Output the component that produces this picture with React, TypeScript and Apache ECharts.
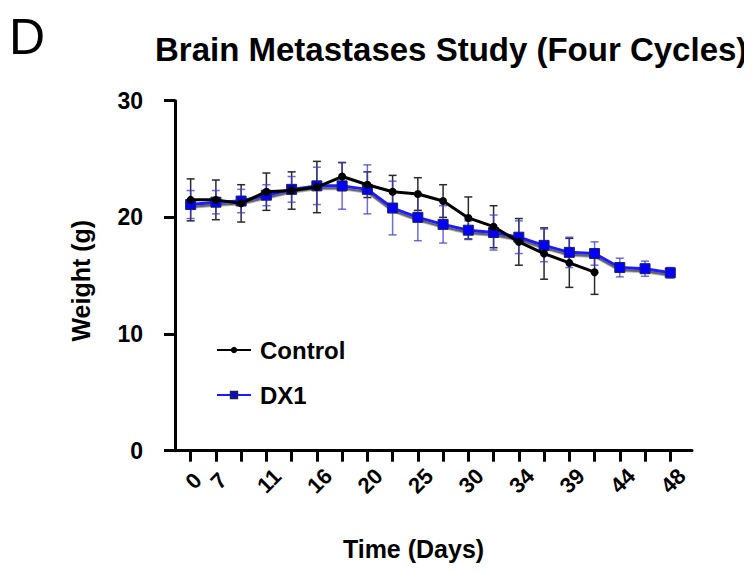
import React, { useEffect, useRef } from "react";
import * as echarts from "echarts";

const dayLabels = ["0", "7", "", "11", "", "16", "", "20", "", "25", "", "30", "", "34", "", "39", "", "44", "", "48"];
const labeledIdx = [0, 1, 3, 5, 7, 9, 11, 13, 15, 17, 19];
const yTicks = [0, 10, 20, 30];

const controlMean = [21.5, 21.5, 21.2, 22.2, 22.3, 22.6, 23.5, 22.8, 22.2, 22.0, 21.4, 19.95, 19.2, 17.9, 16.9, 16.1, 15.3];
const controlSD = [1.8, 1.7, 1.6, 1.6, 1.6, 2.2, 1.2, 1.1, 1.4, 1.4, 1.4, 1.8, 1.8, 2.0, 2.2, 2.1, 1.9];
const dx1Mean = [21.1, 21.3, 21.4, 21.9, 22.4, 22.7, 22.7, 22.4, 20.8, 20.0, 19.4, 18.9, 18.7, 18.3, 17.6, 17.0, 16.9, 15.7, 15.6, 15.25];
const dx1SD = [1.2, 1.0, 1.0, 0.9, 1.1, 1.6, 2.0, 2.1, 2.3, 2.0, 1.6, 0.8, 1.5, 1.4, 1.4, 1.3, 1.0, 0.8, 0.65, 0.45];

const FONT = "Liberation Sans, Arial, sans-serif";

function errorBarSeries(mean: number[], sd: number[], color: string, z: number) {
  return {
    type: "custom",
    z,
    silent: true,
    data: mean.map((m, i) => [i, m - sd[i], m + sd[i]]),
    renderItem: (params: any, api: any) => {
      const x = api.value(0);
      const lo = api.coord([x, api.value(1)]);
      const hi = api.coord([x, api.value(2)]);
      const hw = 4;
      const style = { stroke: color, lineWidth: 1.5 };
      return {
        type: "group",
        children: [
          { type: "line", shape: { x1: lo[0], y1: lo[1], x2: hi[0], y2: hi[1] }, style },
          { type: "line", shape: { x1: lo[0] - hw, y1: lo[1], x2: lo[0] + hw, y2: lo[1] }, style },
          { type: "line", shape: { x1: hi[0] - hw, y1: hi[1], x2: hi[0] + hw, y2: hi[1] }, style },
        ],
      };
    },
  };
}

export default function App() {
  const ref = useRef<HTMLDivElement>(null);
  useEffect(() => {
    if (!ref.current) return;
    const chart = echarts.init(ref.current, null, { renderer: "svg" });
    chart.setOption({
      animation: false,
      backgroundColor: "#fff",
      textStyle: { fontFamily: FONT },
      title: {
        text: "Brain Metastases Study (Four Cycles)",
        left: 155,
        top: 33,
        padding: 0,
        textStyle: { fontFamily: FONT, fontSize: 33, fontWeight: "bold", color: "#000" },
      },
      graphic: [
        {
          type: "text",
          left: 9,
          top: 12,
          style: { text: "D", font: `normal 50px ${FONT}`, fill: "#000" },
        },
      ],
      legend: {
        orient: "vertical",
        left: 216,
        top: 338,
        itemWidth: 34,
        itemHeight: 8,
        itemGap: 21,
        padding: 0,
        textStyle: { fontFamily: FONT, fontSize: 24, fontWeight: "bold", color: "#000", padding: [0, 0, 0, 4] },
        data: ["Control", "DX1"],
      },
      grid: { left: 175, right: 60, top: 100.7, bottom: 122.3 },
      xAxis: {
        type: "value",
        min: -0.62,
        max: 19.86,
        name: "Time (Days)",
        nameLocation: "middle",
        nameGap: 86,
        nameTextStyle: { fontFamily: FONT, fontSize: 25, fontWeight: "bold", color: "#000", padding: [0, 40, 0, 0] },
        axisLine: { show: true, onZero: false, lineStyle: { color: "#000", width: 3 } },
        axisTick: {
          show: true,
          length: 11,
          lineStyle: { color: "#000", width: 3 },
          customValues: dayLabels.map((_, i) => i),
        },
        axisLabel: {
          customValues: labeledIdx,
          formatter: (v: number) => dayLabels[Math.round(v)] ?? "",
          rotate: 45,
          align: "center",
          verticalAlign: "middle",
          margin: 33,
          padding: [0, 0, 0, 8],
          fontFamily: FONT,
          fontSize: 22,
          fontWeight: "bold",
          color: "#000",
        },
        splitLine: { show: false },
      },
      yAxis: {
        type: "value",
        min: yTicks[0],
        max: yTicks[yTicks.length - 1],
        interval: 10,
        name: "Weight (g)",
        nameLocation: "middle",
        nameGap: 82,
        nameTextStyle: { fontFamily: FONT, fontSize: 25, fontWeight: "bold", color: "#000", padding: [0, 10, 0, 0] },
        axisLine: { show: true, onZero: false, lineStyle: { color: "#000", width: 3 } },
        axisTick: { show: true, length: 11, lineStyle: { color: "#000", width: 3 } },
        axisLabel: { margin: 32, fontFamily: FONT, fontSize: 23, fontWeight: "bold", color: "#000" },
        splitLine: { show: false },
      },
      series: [
        errorBarSeries(controlMean, controlSD, "#2a2a2a", 1),
        errorBarSeries(dx1Mean, dx1SD, "rgba(60,60,200,0.75)", 1),
        {
          name: "DX1",
          type: "line",
          z: 3,
          data: dx1Mean.map((v, i) => [i, v]),
          symbol: "rect",
          symbolSize: 10,
          itemStyle: { color: "#0000ff", borderColor: "#202050", borderWidth: 1 },
          lineStyle: {
            color: "#1a1aff",
            width: 3,
            shadowColor: "rgba(70,70,70,0.85)",
            shadowBlur: 0,
            shadowOffsetY: 2.5,
          },
        },
        {
          name: "Control",
          type: "line",
          z: 4,
          data: controlMean.map((v, i) => [i, v]),
          symbol: "circle",
          symbolSize: 8,
          itemStyle: { color: "#000" },
          lineStyle: { color: "#000", width: 3 },
        },
      ],
    });
    return () => chart.dispose();
  }, []);
  return <div ref={ref} style={{ width: 752, height: 573, margin: -8 }} />;
}
